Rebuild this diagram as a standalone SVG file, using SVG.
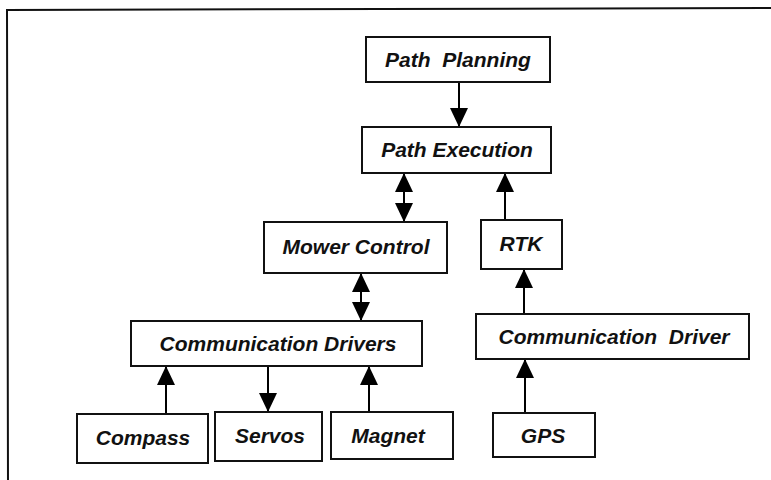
<svg xmlns="http://www.w3.org/2000/svg" width="771" height="480" viewBox="0 0 771 480">
  <defs>
    <marker id="arrow" viewBox="0 0 19 18" refX="19" refY="9" markerWidth="19" markerHeight="18" markerUnits="userSpaceOnUse" orient="auto-start-reverse">
      <path d="M0,0 L19,9 L0,18 Z" fill="#000"/>
    </marker>
  </defs>
  <style>
    .box { fill: #fff; stroke: #111; stroke-width: 2; }
    .lbl { font-family: "Liberation Sans", Arial, sans-serif; font-size: 21px; font-weight: bold; font-style: italic; fill: #111; text-anchor: middle; }
    .conn { stroke: #000; stroke-width: 2; fill: none; }
    .frame { stroke: #111; stroke-width: 2; fill: none; }
  </style>
  <rect x="0" y="0" width="771" height="480" fill="#fff"/>
  <g id="frame">
    <path class="frame" d="M8,480 L7,10 L771,8"/>
  </g>

  <g id="connectors">
    <line class="conn" x1="459" y1="83" x2="459" y2="127" marker-end="url(#arrow)"/>
    <line class="conn" x1="404" y1="173" x2="404" y2="222" marker-start="url(#arrow)" marker-end="url(#arrow)"/>
    <line class="conn" x1="505" y1="220" x2="505" y2="173" marker-end="url(#arrow)"/>
    <line class="conn" x1="361" y1="273" x2="361" y2="321" marker-start="url(#arrow)" marker-end="url(#arrow)"/>
    <line class="conn" x1="524" y1="314" x2="524" y2="269" marker-end="url(#arrow)"/>
    <line class="conn" x1="166" y1="414" x2="166" y2="366" marker-end="url(#arrow)"/>
    <line class="conn" x1="268" y1="366" x2="268" y2="412" marker-end="url(#arrow)"/>
    <line class="conn" x1="369" y1="412" x2="369" y2="366" marker-end="url(#arrow)"/>
    <line class="conn" x1="525" y1="413" x2="525" y2="359" marker-end="url(#arrow)"/>
  </g>

  <g id="path-planning">
    <rect class="box" x="366" y="37" width="184" height="45"/>
    <text class="lbl" x="458" y="67" xml:space="preserve">Path  Planning</text>
  </g>
  <g id="path-execution">
    <rect class="box" x="362" y="127" width="189" height="46"/>
    <text class="lbl" x="457" y="157">Path Execution</text>
  </g>
  <g id="mower-control">
    <rect class="box" x="264" y="222" width="183" height="51"/>
    <text class="lbl" x="356" y="254">Mower Control</text>
  </g>
  <g id="rtk">
    <rect class="box" x="481" y="220" width="81" height="49"/>
    <text class="lbl" x="521" y="251">RTK</text>
  </g>
  <g id="communication-drivers">
    <rect class="box" x="131" y="321" width="291" height="45"/>
    <text class="lbl" x="278" y="351">Communication Drivers</text>
  </g>
  <g id="communication-driver">
    <rect class="box" x="476" y="314" width="273" height="45"/>
    <text class="lbl" x="614" y="344" xml:space="preserve">Communication  Driver</text>
  </g>
  <g id="compass">
    <rect class="box" x="77" y="414" width="131" height="49"/>
    <text class="lbl" x="143" y="445">Compass</text>
  </g>
  <g id="servos">
    <rect class="box" x="215" y="412" width="107" height="49"/>
    <text class="lbl" x="270" y="443">Servos</text>
  </g>
  <g id="magnet">
    <rect class="box" x="331" y="412" width="122" height="47"/>
    <text class="lbl" x="388" y="443">Magnet</text>
  </g>
  <g id="gps">
    <rect class="box" x="493" y="413" width="102" height="44"/>
    <text class="lbl" x="543" y="443">GPS</text>
  </g>
</svg>
